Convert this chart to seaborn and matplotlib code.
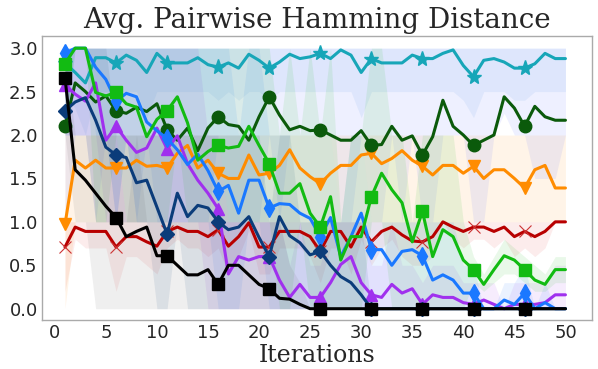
import matplotlib
matplotlib.use("Agg")
import matplotlib.pyplot as plt
import seaborn as sns
import pandas as pd

iters = list(range(1, 51))

cyan = [2.83, 2.72, 2.60, 2.89, 2.89, 2.83, 2.92, 2.86, 2.72, 2.94,
        2.83, 2.83, 2.83, 2.89, 2.81, 2.78, 2.83, 2.77, 2.93, 2.86,
        2.77, 2.84, 2.93, 2.88, 2.90, 2.94, 2.88, 2.98, 2.92, 2.72,
        2.88, 2.83, 2.83, 2.83, 2.92, 2.88, 2.88, 2.94, 2.98, 2.80,
        2.67, 2.86, 2.88, 2.84, 2.77, 2.77, 2.82, 2.94, 2.88, 2.88]
dkgreen = [2.10, 2.60, 2.50, 2.38, 2.45, 2.28, 2.25, 2.32, 2.27, 2.36,
           2.06, 1.94, 2.08, 1.82, 2.08, 2.21, 2.12, 2.10, 1.94, 2.21,
           2.44, 2.23, 2.06, 2.10, 2.05, 2.06, 2.00, 1.94, 1.94, 2.05,
           1.88, 1.89, 2.10, 1.94, 1.99, 1.77, 1.98, 2.40, 2.10, 2.00,
           1.88, 1.94, 2.00, 2.44, 2.31, 2.10, 2.33, 2.21, 2.17, 2.17]
green = [2.82, 3.00, 3.00, 2.49, 2.45, 2.49, 2.36, 2.32, 1.98, 2.18,
         2.28, 2.44, 2.14, 1.71, 1.81, 1.88, 1.85, 1.87, 2.10, 1.88,
         1.67, 1.33, 1.33, 1.44, 1.10, 0.94, 1.29, 0.56, 0.83, 0.83,
         1.29, 1.56, 1.37, 1.22, 0.77, 1.12, 0.60, 0.91, 0.83, 0.56,
         0.45, 0.28, 0.45, 0.61, 0.56, 0.45, 0.33, 0.28, 0.45, 0.45]
orange = [0.97, 1.71, 1.62, 1.71, 1.62, 1.62, 1.62, 1.71, 1.64, 1.65,
          1.62, 1.79, 1.88, 1.62, 1.71, 1.56, 1.50, 1.50, 1.77, 1.54,
          1.56, 1.65, 1.83, 1.62, 1.52, 1.44, 1.56, 1.65, 1.65, 1.77,
          1.79, 1.67, 1.73, 1.82, 1.71, 1.64, 1.54, 1.65, 1.65, 1.56,
          1.64, 1.50, 1.60, 1.60, 1.50, 1.39, 1.60, 1.65, 1.39, 1.39]
red = [0.71, 0.94, 0.89, 0.89, 0.89, 0.71, 0.83, 0.83, 0.77, 0.72,
       0.89, 0.94, 0.89, 0.89, 0.83, 0.91, 0.72, 0.83, 0.99, 0.71,
       0.71, 0.89, 0.89, 0.89, 0.83, 0.66, 0.89, 0.89, 0.71, 0.94,
       0.77, 0.89, 0.94, 0.85, 0.78, 0.77, 0.83, 1.00, 0.94, 0.89,
       0.94, 0.94, 0.89, 0.94, 0.83, 0.89, 0.83, 0.89, 1.00, 1.00]
black = [2.66, 1.60, 1.48, 1.33, 1.18, 1.05, 0.83, 0.89, 0.94, 0.61,
         0.61, 0.50, 0.39, 0.39, 0.45, 0.28, 0.50, 0.50, 0.39, 0.28,
         0.23, 0.12, 0.11, 0.05, 0.00, 0.00, 0.00, 0.00, 0.00, 0.00,
         0.00, 0.00, 0.00, 0.00, 0.00, 0.00, 0.00, 0.00, 0.00, 0.00,
         0.00, 0.00, 0.00, 0.00, 0.00, 0.00, 0.00, 0.00, 0.00, 0.00]
navy = [2.28, 2.38, 2.43, 2.17, 1.86, 1.77, 1.74, 1.45, 1.48, 1.17,
        0.86, 1.33, 1.06, 1.19, 1.16, 1.00, 0.91, 0.94, 1.06, 0.82,
        0.60, 1.06, 0.84, 0.76, 0.62, 0.66, 0.50, 0.37, 0.30, 0.16,
        0.00, 0.00, 0.00, 0.00, 0.00, 0.00, 0.00, 0.00, 0.00, 0.00,
        0.00, 0.00, 0.00, 0.00, 0.00, 0.00, 0.00, 0.00, 0.00, 0.00]
blue = [2.94, 3.00, 3.00, 2.78, 2.64, 2.39, 2.48, 2.44, 2.15, 2.05,
        1.96, 1.83, 1.66, 1.78, 1.59, 1.35, 1.42, 1.10, 1.48, 1.48,
        1.16, 1.21, 1.20, 1.10, 1.04, 0.83, 1.05, 0.60, 0.83, 1.10,
        0.68, 0.68, 0.50, 0.66, 0.68, 0.61, 0.33, 0.39, 0.33, 0.18,
        0.18, 0.00, 0.00, 0.10, 0.05, 0.18, 0.00, 0.07, 0.00, 0.00]
purple = [2.58, 2.47, 2.39, 2.60, 1.94, 2.10, 1.94, 1.80, 1.85, 2.08,
          1.84, 1.99, 1.67, 1.48, 1.33, 1.15, 0.40, 0.60, 0.56, 0.60,
          0.60, 0.33, 0.13, 0.28, 0.13, 0.13, 0.30, 0.51, 0.60, 0.30,
          0.16, 0.13, 0.28, 0.18, 0.23, 0.05, 0.16, 0.13, 0.13, 0.07,
          0.05, 0.10, 0.05, 0.00, 0.05, 0.05, 0.05, 0.07, 0.16, 0.16]

# shaded spread bands (lower, upper)
cyan_lo = [2.5, 2.3, 2.0, 2.5, 2.5, 2.5, 2.5, 2.5, 2.2, 2.5,
           2.5, 2.5, 2.5, 2.5, 2.5, 2.4, 2.5, 2.4, 2.5, 2.5,
           2.4, 2.5, 2.5, 2.5, 2.5, 2.5, 2.5, 2.5, 2.5, 2.2,
           2.5, 2.5, 2.5, 2.5, 2.5, 2.5, 2.5, 2.5, 2.5, 2.4,
           2.2, 2.5, 2.5, 2.5, 2.4, 2.4, 2.5, 2.5, 2.5, 2.5]
cyan_hi = [3.0, 3.0, 3.0, 3.0, 3.0, 3.0, 3.0, 3.0, 3.0, 3.0,
           3.0, 3.0, 3.0, 3.0, 3.0, 3.0, 3.0, 3.0, 3.0, 3.0,
           3.0, 3.0, 3.0, 3.0, 3.0, 3.0, 3.0, 3.0, 3.0, 3.0,
           3.0, 3.0, 3.0, 3.0, 3.0, 3.0, 3.0, 3.0, 3.0, 3.0,
           3.0, 3.0, 3.0, 3.0, 3.0, 3.0, 3.0, 3.0, 3.0, 3.0]
dkgreen_lo = [1.0, 2.0, 2.0, 1.0, 2.0, 1.0, 2.0, 1.0, 2.0, 1.0,
              1.0, 1.0, 1.0, 1.0, 1.0, 2.0, 1.0, 1.0, 1.0, 1.0,
              2.0, 1.0, 2.0, 2.0, 2.0, 2.0, 2.0, 1.0, 1.0, 2.0,
              1.0, 1.0, 2.0, 1.0, 2.0, 1.0, 1.0, 2.0, 2.0, 2.0,
              1.0, 1.0, 2.0, 2.25, 2.0, 2.0, 1.5, 1.5, 1.5, 2.0]
dkgreen_hi = [3.0, 3.0, 3.0, 3.0, 3.0, 3.0, 3.0, 3.0, 3.0, 3.0,
              3.0, 3.0, 3.0, 3.0, 3.0, 3.0, 3.0, 3.0, 3.0, 3.0,
              3.0, 3.0, 3.0, 3.0, 3.0, 3.0, 3.0, 3.0, 3.0, 3.0,
              3.0, 3.0, 3.0, 3.0, 3.0, 3.0, 3.0, 3.0, 3.0, 3.0,
              3.0, 3.0, 3.0, 3.0, 3.0, 3.0, 3.0, 3.0, 3.0, 3.0]
green_lo = [2.0, 3.0, 3.0, 1.0, 1.0, 2.0, 1.0, 1.0, 1.0, 1.0,
            1.0, 2.0, 1.0, 1.0, 1.0, 1.0, 1.0, 1.0, 1.0, 1.0,
            1.0, 0.0, 0.0, 1.0, 0.0, 0.0, 0.0, 0.0, 0.0, 0.0,
            1.0, 1.0, 0.0, 0.0, 0.0, 0.0, 0.0, 0.0, 0.0, 0.0,
            0.3, 0.2, 0.3, 0.4, 0.4, 0.3, 0.2, 0.2, 0.3, 0.3]
green_hi = [3.0, 3.0, 3.0, 3.0, 3.0, 3.0, 3.0, 3.0, 3.0, 3.0,
            3.0, 3.0, 3.0, 3.0, 3.0, 3.0, 3.0, 3.0, 3.0, 3.0,
            3.0, 2.0, 3.0, 2.0, 3.0, 2.0, 3.0, 1.0, 2.0, 2.0,
            3.0, 3.0, 2.0, 2.0, 1.0, 2.0, 2.0, 2.0, 2.0, 1.0,
            0.6, 0.4, 0.6, 0.8, 0.7, 0.6, 0.5, 0.4, 0.6, 0.6]
orange_lo = [0.0, 1.0, 1.0, 1.0, 1.0, 1.0, 1.0, 1.0, 1.0, 1.0,
             1.0, 1.0, 1.0, 1.0, 1.0, 1.0, 1.0, 1.0, 1.0, 1.0,
             1.0, 1.0, 1.0, 1.0, 1.0, 1.0, 1.0, 1.0, 1.0, 1.0,
             1.0, 1.0, 1.0, 1.0, 1.0, 1.0, 1.0, 1.0, 1.0, 1.0,
             1.0, 1.0, 1.0, 1.0, 1.0, 1.0, 1.0, 1.0, 1.0, 1.0]
orange_hi = [2.0, 2.0, 2.0, 2.0, 2.0, 2.0, 2.0, 2.0, 2.0, 2.0,
             2.0, 2.0, 2.0, 2.0, 2.0, 2.0, 2.0, 2.0, 2.0, 2.0,
             2.0, 2.0, 2.0, 2.0, 2.0, 2.0, 2.0, 2.0, 2.0, 2.0,
             2.0, 2.0, 2.0, 2.0, 2.0, 2.0, 2.0, 2.0, 2.0, 2.0,
             2.0, 2.0, 2.0, 2.0, 2.0, 2.0, 2.0, 2.0, 2.0, 2.0]
red_lo = [0.2, 0.8, 0.7, 0.7, 0.7, 0.2, 0.6, 0.6, 0.5, 0.4,
          0.7, 0.8, 0.7, 0.7, 0.6, 0.7, 0.4, 0.6, 0.9, 0.4,
          0.4, 0.7, 0.7, 0.7, 0.6, 0.3, 0.7, 0.7, 0.4, 0.8,
          0.5, 0.7, 0.8, 0.6, 0.5, 0.5, 0.6, 1.0, 0.8, 0.7,
          0.8, 0.8, 0.7, 0.8, 0.6, 0.7, 0.6, 0.7, 1.0, 1.0]
red_hi = [1.0, 1.0, 1.0, 1.0, 1.0, 1.0, 1.0, 1.0, 1.0, 1.0,
          1.0, 1.0, 1.0, 1.0, 1.0, 1.0, 1.0, 1.0, 1.0, 1.0,
          1.0, 1.0, 1.0, 1.0, 1.0, 1.0, 1.0, 1.0, 1.0, 1.0,
          1.0, 1.0, 1.0, 1.0, 1.0, 1.0, 1.0, 1.0, 1.0, 1.0,
          1.0, 1.0, 1.0, 1.0, 1.0, 1.0, 1.0, 1.0, 1.0, 1.0]
black_lo = [2.0, 1.0, 1.0, 0.0, 0.0, 0.0, 0.0, 0.0, 0.0, 0.0,
            0.0, 0.0, 0.0, 0.0, 0.0, 0.0, 0.0, 0.0, 0.0, 0.0,
            0.0, 0.0, 0.0, 0.0, 0.0, 0.0, 0.0, 0.0, 0.0, 0.0,
            0.0, 0.0, 0.0, 0.0, 0.0, 0.0, 0.0, 0.0, 0.0, 0.0,
            0.0, 0.0, 0.0, 0.0, 0.0, 0.0, 0.0, 0.0, 0.0, 0.0]
black_hi = [3.0, 2.0, 2.0, 2.0, 2.0, 2.0, 1.0, 2.0, 1.0, 1.0,
            1.0, 1.0, 1.0, 1.0, 1.0, 1.0, 1.0, 1.0, 1.0, 1.0,
            1.0, 1.0, 0.5, 0.3, 0.0, 0.0, 0.0, 0.0, 0.0, 0.0,
            0.0, 0.0, 0.0, 0.0, 0.0, 0.0, 0.0, 0.0, 0.0, 0.0,
            0.0, 0.0, 0.0, 0.0, 0.0, 0.0, 0.0, 0.0, 0.0, 0.0]
navy_lo = [2.0, 2.0, 2.0, 1.0, 1.0, 1.0, 1.0, 1.0, 1.0, 0.0,
           0.0, 1.0, 0.0, 0.0, 0.0, 0.0, 0.0, 0.0, 0.0, 0.0,
           0.0, 0.0, 0.0, 0.0, 0.0, 0.0, 0.0, 0.0, 0.0, 0.0,
           0.0, 0.0, 0.0, 0.0, 0.0, 0.0, 0.0, 0.0, 0.0, 0.0,
           0.0, 0.0, 0.0, 0.0, 0.0, 0.0, 0.0, 0.0, 0.0, 0.0]
navy_hi = [3.0, 3.0, 3.0, 3.0, 3.0, 2.0, 2.0, 2.0, 2.0, 2.0,
           2.0, 2.0, 2.0, 2.0, 2.0, 2.0, 2.0, 2.0, 2.0, 2.0,
           1.0, 2.0, 2.0, 1.0, 1.0, 1.0, 1.0, 1.0, 1.0, 1.0,
           0.0, 0.0, 0.0, 0.0, 0.0, 0.0, 0.0, 0.0, 0.0, 0.0,
           0.0, 0.0, 0.0, 0.0, 0.0, 0.0, 0.0, 0.0, 0.0, 0.0]
blue_lo = [2.0, 3.0, 3.0, 2.0, 2.0, 1.0, 2.0, 1.0, 1.0, 1.0,
           1.0, 1.0, 1.0, 1.0, 1.0, 0.0, 0.0, 0.0, 1.0, 1.0,
           0.0, 0.0, 0.0, 0.0, 0.0, 0.0, 0.0, 0.0, 0.0, 0.0,
           0.0, 0.0, 0.0, 0.0, 0.0, 0.0, 0.0, 0.0, 0.0, 0.0,
           0.0, 0.0, 0.0, 0.0, 0.0, 0.0, 0.0, 0.0, 0.0, 0.0]
blue_hi = [3.0, 3.0, 3.0, 3.0, 3.0, 3.0, 3.0, 3.0, 3.0, 3.0,
           3.0, 3.0, 3.0, 3.0, 3.0, 3.0, 3.0, 2.0, 3.0, 3.0,
           2.0, 2.0, 2.0, 2.0, 2.0, 2.0, 2.0, 1.0, 2.0, 2.0,
           1.0, 1.0, 1.0, 1.0, 1.0, 1.0, 1.0, 1.0, 1.0, 0.5,
           0.5, 0.0, 0.0, 0.3, 0.3, 0.5, 0.0, 0.3, 0.0, 0.0]
purple_lo = [2.0, 2.0, 2.0, 2.0, 1.0, 1.0, 1.0, 1.0, 1.0, 1.0,
             1.0, 1.0, 1.0, 1.0, 0.0, 0.0, 0.0, 0.0, 0.0, 0.0,
             0.0, 0.0, 0.0, 0.0, 0.0, 0.0, 0.0, 0.0, 0.0, 0.0,
             0.0, 0.0, 0.0, 0.0, 0.0, 0.0, 0.0, 0.0, 0.0, 0.0,
             0.0, 0.0, 0.0, 0.0, 0.0, 0.0, 0.0, 0.0, 0.0, 0.0]
purple_hi = [3.0, 3.0, 3.0, 3.0, 3.0, 3.0, 3.0, 3.0, 3.0, 3.0,
             3.0, 3.0, 3.0, 3.0, 2.0, 2.0, 1.0, 1.0, 1.0, 1.0,
             1.0, 1.0, 0.5, 1.0, 0.5, 0.5, 1.0, 1.0, 1.0, 1.0,
             0.5, 0.5, 1.0, 0.5, 0.5, 0.3, 0.5, 0.5, 0.5, 0.3,
             0.3, 0.3, 0.3, 0.0, 0.3, 0.3, 0.3, 0.3, 0.5, 0.5]

series = [
    # values, lo, hi, line colour, band colour, marker, markersize, mew
    (red, red_lo, red_hi, "#b80000", "#e03030", "x", 9, 0.8),
    (orange, orange_lo, orange_hi, "#ff8c00", "#ff8c00", "v", 9, 1),
    (cyan, cyan_lo, cyan_hi, "#17a6b8", "#3a8ee0", "*", 11, 1),
    (dkgreen, dkgreen_lo, dkgreen_hi, "#0b5a0b", "#4a5cff", "o", 9, 1),
    (purple, purple_lo, purple_hi, "#a030ee", "#a030ee", "^", 9, 1),
    (blue, blue_lo, blue_hi, "#1a78ff", "#1a78ff", "d", 9, 1),
    (navy, navy_lo, navy_hi, "#0b3c7a", "#0b3c7a", "D", 7, 1),
    (green, green_lo, green_hi, "#12bb12", "#12bb12", "s", 8.5, 1),
    (black, black_lo, black_hi, "#000000", "#555555", "s", 8.5, 1),
]

sns.set_theme(style="white")
plt.rcParams["font.family"] = ["DejaVu Sans"]

fig = plt.figure(figsize=(5.98, 3.69), dpi=100)
ax = fig.add_axes([42 / 598, 1 - 320 / 369, 550 / 598, 284 / 369])

for vals, lo, hi, col, bcol, mk, ms, mew in series:
    ax.fill_between(iters, lo, hi, color=bcol, alpha=0.09, linewidth=0)

for vals, lo, hi, col, bcol, mk, ms, mew in series:
    df = pd.DataFrame({"Iterations": iters, "value": vals})
    sns.lineplot(data=df, x="Iterations", y="value", ax=ax, color=col,
                 linewidth=2.2, marker=mk, markersize=ms, markevery=5,
                 markeredgewidth=mew,
                 markeredgecolor=("#cc3333" if mk == "x" else col),
                 errorbar=None)

ax.set_xlim(-1.25, 52.6)
ax.set_ylim(-0.13, 3.14)
ax.set_xticks([0, 5, 10, 15, 20, 25, 30, 35, 40, 45, 50])
ax.set_yticks([0.0, 0.5, 1.0, 1.5, 2.0, 2.5, 3.0])
ax.tick_params(axis="both", labelsize=13, length=0, pad=3)
ax.set_ylabel("")
ax.set_xlabel("Iterations", fontsize=17, family="DejaVu Serif", labelpad=1)
ax.set_title("Avg. Pairwise Hamming Distance", fontsize=20,
             family="DejaVu Serif", pad=6)
for s in ax.spines.values():
    s.set_color("#aaaaaa")
    s.set_linewidth(1.0)

fig.savefig("out.png", dpi=100)
